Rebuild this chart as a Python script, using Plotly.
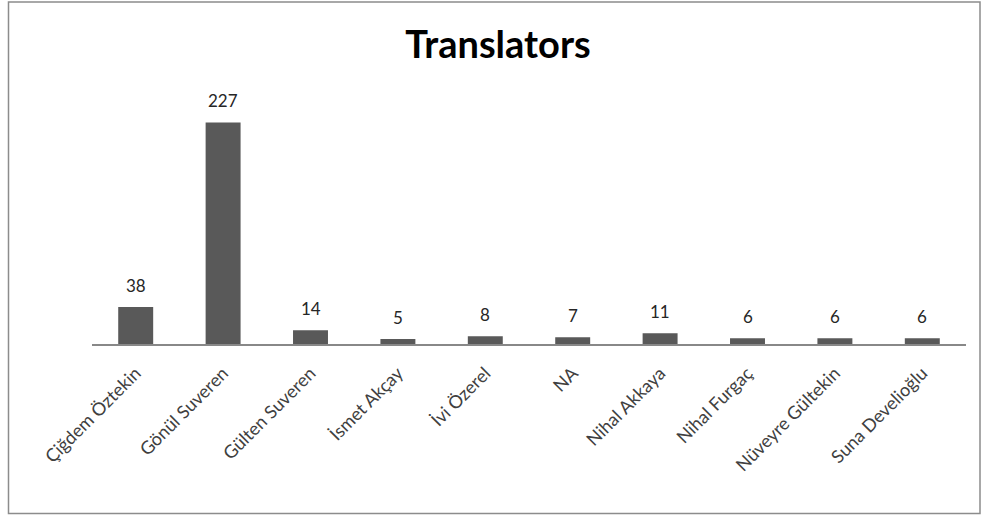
import plotly.graph_objects as go

categories = ["Çiğdem Öztekin", "Gönül Suveren", "Gülten Suveren", "İsmet Akçay", "İvi Özerel",
              "NA", "Nihal Akkaya", "Nihal Furgaç", "Nüveyre Gültekin", "Suna Develioğlu"]
values = [38, 227, 14, 5, 8, 7, 11, 6, 6, 6]

FONT = "Lato, 'Open Sans', sans-serif"

fig = go.Figure(go.Bar(x=categories, y=values, marker=dict(color="#595959", line=dict(width=0))))

for c, v in zip(categories, values):
    fig.add_annotation(x=c, y=v, text=str(v), showarrow=False, yanchor="bottom", yshift=9,
                       font=dict(family=FONT, size=17, color="#262626"))

L, R, T, B = 92, 16, 100, 173
W, H = 982, 517
pw, ph = W - L - R, H - T - B

def px(xp):
    return (xp - L) / pw

def py(yp):
    return (H - B - yp) / ph

fig.add_shape(type="rect", xref="paper", yref="paper",
              x0=px(8.5), x1=px(980), y0=py(513.5), y1=py(2),
              line=dict(color="#8c8c8c", width=1.5), layer="below")

fig.update_layout(
    width=W, height=H,
    margin=dict(l=L, r=R, t=T, b=B),
    paper_bgcolor="white", plot_bgcolor="white",
    bargap=0.6,
    showlegend=False,
    title=dict(text="<b>Translators</b>", x=498 / W, xanchor="center", y=1 - 45 / H, yanchor="middle",
               font=dict(family=FONT, size=38, color="#000000")),
    xaxis=dict(tickangle=-45, showline=True, linecolor="#888888", linewidth=1.5, ticks="",
               ticklabelstandoff=10,
               tickfont=dict(family=FONT, size=18, color="#404040"), showgrid=False),
    yaxis=dict(range=[0, 250], visible=False, showgrid=False),
)

fig.write_html("out.html", config={"displayModeBar": False},
               post_script="document.body.style.margin='0';document.body.style.overflow='hidden';")
